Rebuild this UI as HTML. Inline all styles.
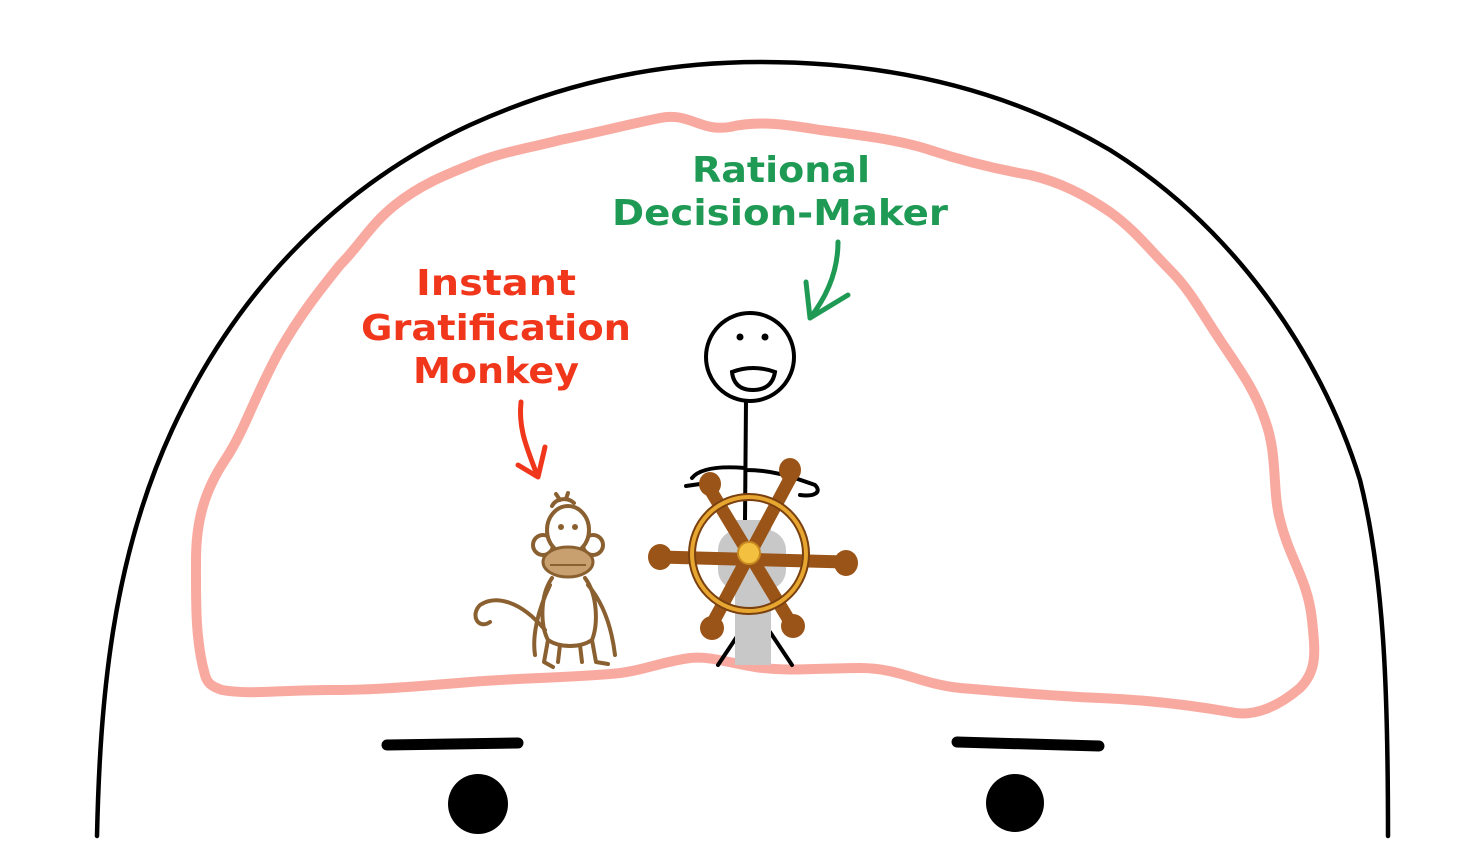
<!DOCTYPE html>
<html><head><meta charset="utf-8"><style>html,body{margin:0;padding:0;background:#fff}svg{display:block}</style></head>
<body>
<svg width="1476" height="852" viewBox="0 0 1476 852" xmlns="http://www.w3.org/2000/svg">
<rect width="1476" height="852" fill="#fff"/>
<path d="M97,836 C100,700 112,560 172,430 C232,300 330,190 470,125 C580,75 680,62 760,62 C880,62 1000,85 1110,150 C1230,225 1320,350 1360,480 C1385,580 1388,700 1388,836" fill="none" stroke="#000" stroke-width="4.5" stroke-linecap="round"/>
<path d="M205,675 C195,640 196,600 196,560 C196,520 205,490 225,460 C245,430 255,395 280,350 C300,315 320,290 340,265 C360,245 370,225 395,205 C420,185 445,175 470,165 C500,152 530,148 560,140 C600,132 625,125 660,118 C690,112 700,132 730,127 C760,120 790,125 820,130 C860,135 900,140 930,150 C960,160 990,168 1030,175 C1060,182 1085,195 1110,212 C1135,230 1150,250 1170,270 C1190,290 1200,310 1220,340 C1240,370 1255,390 1265,420 C1278,455 1272,490 1280,520 C1290,560 1308,580 1312,620 C1315,650 1318,670 1300,688 C1280,705 1255,718 1230,712 C1190,705 1150,700 1100,698 C1050,696 1010,692 960,688 C920,684 900,668 860,668 C820,668 790,672 755,667 C725,662 710,656 690,658 C660,662 640,672 610,674 C560,678 520,678 470,682 C420,686 380,690 330,690 C280,690 250,695 222,690 C210,686 207,682 205,675 Z" fill="none" stroke="#f9aaa0" stroke-width="10" stroke-linejoin="round"/>
<path d="M387,745 L518,743" stroke="#000" stroke-width="11" stroke-linecap="round"/>
<path d="M957,742 L1099,746" stroke="#000" stroke-width="11" stroke-linecap="round"/>
<circle cx="478" cy="804" r="30" fill="#000"/>
<circle cx="1015" cy="803" r="29" fill="#000"/>
<g font-family="DejaVu Sans, Liberation Sans, sans-serif" font-weight="bold" font-size="36" text-anchor="middle">
<text x="781" y="182" fill="#1f9a55" textLength="178" lengthAdjust="spacingAndGlyphs">Rational</text>
<text x="780" y="225" fill="#1f9a55" textLength="336" lengthAdjust="spacingAndGlyphs">Decision-Maker</text>
<text x="496" y="295" fill="#f0371c" textLength="160" lengthAdjust="spacingAndGlyphs">Instant</text>
<text x="496" y="340" fill="#f0371c" textLength="270" lengthAdjust="spacingAndGlyphs">Gratification</text>
<text x="496" y="383" fill="#f0371c" textLength="166" lengthAdjust="spacingAndGlyphs">Monkey</text>
</g>
<path d="M521,402 C518,430 528,450 537,475" fill="none" stroke="#f0371c" stroke-width="5" stroke-linecap="round"/>
<path d="M518,465 L538,477 L545,447" fill="none" stroke="#f0371c" stroke-width="5" stroke-linecap="round" stroke-linejoin="round"/>
<path d="M838,242 C838,270 828,295 810,318" fill="none" stroke="#1f9a55" stroke-width="5" stroke-linecap="round"/>
<path d="M806,282 L810,318 L848,295" fill="none" stroke="#1f9a55" stroke-width="5" stroke-linecap="round" stroke-linejoin="round"/>
<circle cx="750" cy="357" r="44" fill="none" stroke="#000" stroke-width="4"/>
<circle cx="740" cy="337" r="3.5" fill="#000"/>
<circle cx="765" cy="337" r="3.5" fill="#000"/>
<path d="M732,372 Q753,364 775,372 Q772,390 753,390 Q734,390 732,372 Z" fill="none" stroke="#000" stroke-width="4"/>
<path d="M746,401 L745,520" stroke="#000" stroke-width="4"/>
<path d="M745,468 C720,466 700,468 692,478 M686,486 L700,484 M746,470 C775,470 795,478 815,485 C822,492 815,497 800,495" fill="none" stroke="#000" stroke-width="4" stroke-linecap="round"/>
<path d="M740,632 L718,665 M770,632 L792,665" stroke="#000" stroke-width="4" stroke-linecap="round"/>
<rect x="735" y="520" width="36" height="145" fill="#c8c8c8"/>
<rect x="718" y="530" width="68" height="60" rx="20" fill="#c8c8c8"/>
<g stroke="#9a5418" stroke-width="13" stroke-linecap="round">
<path d="M660,557 L845,562"/>
<path d="M708,486 L795,630"/>
<path d="M792,475 L710,628"/>
</g>
<g fill="#9a5418">
<ellipse cx="660" cy="557" rx="12" ry="13"/>
<ellipse cx="846" cy="563" rx="12" ry="13"/>
<ellipse cx="710" cy="484" rx="11" ry="12"/>
<ellipse cx="790" cy="470" rx="11" ry="12"/>
<ellipse cx="712" cy="628" rx="12" ry="12"/>
<ellipse cx="793" cy="626" rx="12" ry="12"/>
</g>
<circle cx="749" cy="554" r="57" fill="none" stroke="#7a4010" stroke-width="8"/>
<circle cx="749" cy="554" r="57" fill="none" stroke="#e6a630" stroke-width="4"/>
<circle cx="749" cy="553" r="11" fill="#f4c040" stroke="#c88a20" stroke-width="2"/>
<!-- monkey -->
<g fill="none" stroke="#8a6030" stroke-width="4" stroke-linecap="round" stroke-linejoin="round">
<path d="M552,506 C556,498 568,497 574,503 M560,500 L556,494 M566,499 L568,493"/>
<circle cx="543" cy="545" r="10" fill="#fff"/>
<circle cx="593" cy="545" r="10" fill="#fff"/>
<ellipse cx="568" cy="530" rx="21" ry="24" fill="#fff"/>
<path d="M552,578 C540,595 540,625 548,640 C560,648 580,648 592,640 C598,625 598,595 585,578"/>
<path d="M548,640 L544,662 L553,667 M560,645 L558,662 M592,640 L596,662 L608,664 M580,645 L582,662"/>
<path d="M588,585 C605,605 612,630 615,655 M550,585 C538,610 532,635 535,655"/>
<path d="M545,630 C520,600 495,595 480,605 C470,615 478,630 490,622"/>
</g>
<ellipse cx="568" cy="562" rx="25" ry="15" fill="#c8a070" stroke="#8a6030" stroke-width="3"/>
<path d="M550,565 L586,565" stroke="#8a6030" stroke-width="2"/>
<circle cx="561" cy="527" r="3" fill="#8a6030"/>
<circle cx="575" cy="527" r="3" fill="#8a6030"/>
</svg>
</body></html>
